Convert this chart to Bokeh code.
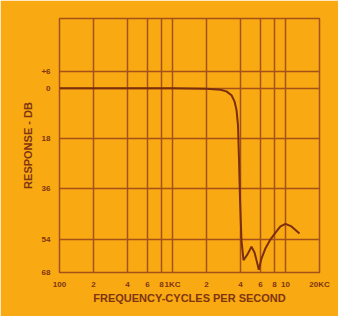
from bokeh.plotting import figure
from bokeh.models import FixedTicker, Range1d
from bokeh.embed import file_html
from bokeh.resources import INLINE

# Frequency response (Hz, dB attenuation; positive = down)
freq_hz = [100, 1000, 2000, 2660, 3000, 3330, 3540, 3690, 3800, 3880, 3960, 4080,
           4250, 4610, 5000, 5320, 5650, 5800, 6130, 6660, 7370, 8320, 9030, 10000,
           11300, 13300]
response_db = [0, 0, 0.2, 0.5, 1.1, 2.5, 4.7, 7.9, 13.3, 25.8, 40, 54.5,
               61.6, 59.5, 56.8, 58.8, 63, 65, 61, 57.3, 54.1, 51.3, 49.5, 48.6,
               49.5, 52]

x_ticks = [100, 200, 400, 600, 800, 1000, 2000, 4000, 6000, 8000, 10000, 20000]
x_labels = ["100", "2", "4", "6", "8", "1KC", "2", "4", "6", "8", "10", "20KC"]
y_ticks = [-6, 0, 18, 36, 54, 66]
y_labels = ["+6", "0", "18", "36", "54", "68"]

BG = "#F9A912"
GRID = "#A5521A"
CURVE = "#7A2E0E"
TEXT = "#7E3510"

p = figure(width=338, height=316, x_axis_type="log",
           x_range=Range1d(100, 20000), y_range=Range1d(66, -25),
           output_backend="svg", toolbar_location=None,
           min_border_left=59, min_border_right=19, min_border_top=18,
           min_border_bottom=44)
p.background_fill_color = BG
p.border_fill_color = BG
p.outline_line_color = GRID
p.outline_line_width = 1.5

p.xaxis.ticker = FixedTicker(ticks=x_ticks)
p.xaxis.major_label_overrides = dict(zip(x_ticks, x_labels))
p.yaxis.ticker = FixedTicker(ticks=y_ticks)
p.yaxis.major_label_overrides = dict(zip(y_ticks, y_labels))
p.xgrid.ticker = FixedTicker(ticks=x_ticks)
p.ygrid.ticker = FixedTicker(ticks=y_ticks)
for g in (p.xgrid, p.ygrid):
    g.grid_line_color = GRID
    g.grid_line_width = 1.5
    g.grid_line_alpha = 1.0

for ax in (p.xaxis, p.yaxis):
    ax.axis_line_color = None
    ax.major_tick_line_color = None
    ax.minor_tick_line_color = None
    ax.major_label_text_color = TEXT
    ax.major_label_text_font = "Liberation Sans"
    ax.major_label_text_font_style = "bold"
    ax.major_label_text_font_size = "8px"
    ax.axis_label_text_color = TEXT
    ax.axis_label_text_font = "Liberation Sans"
    ax.axis_label_text_font_style = "bold"
    ax.axis_label_text_font_size = "11px"

p.xaxis.axis_label = "FREQUENCY-CYCLES PER SECOND"
p.yaxis.axis_label = "RESPONSE - DB"
p.xaxis.major_label_standoff = 1
p.xaxis.axis_label_standoff = 0
p.yaxis.major_label_standoff = 3
p.yaxis.axis_label_standoff = 4

p.line(freq_hz, response_db, line_color=CURVE, line_width=2)

open("out.html", "w").write(file_html(p, INLINE))
